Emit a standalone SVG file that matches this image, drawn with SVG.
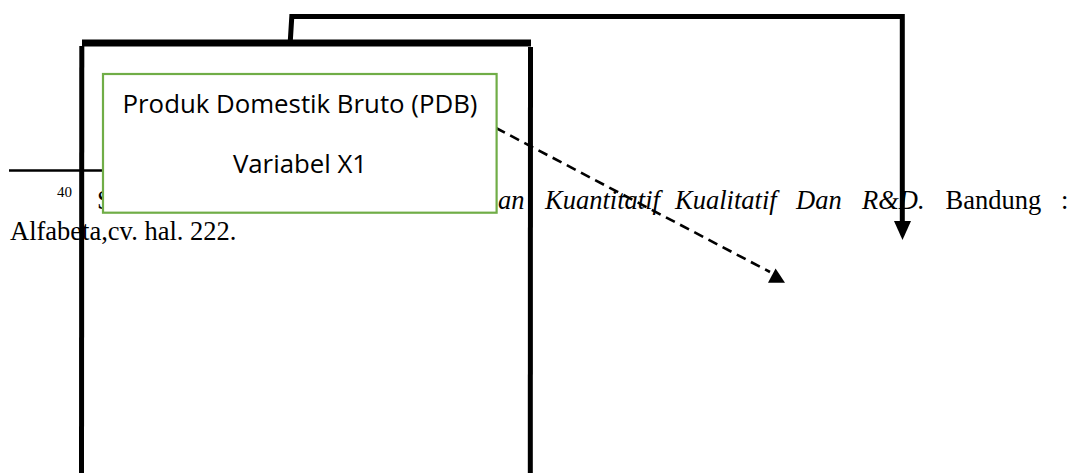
<svg xmlns="http://www.w3.org/2000/svg" width="1076" height="473" viewBox="0 0 1076 473">
<style>
.fn{font-family:"Liberation Serif","Times New Roman",serif;font-size:26.5px;fill:#000}
.it{font-style:italic}
.box{fill:#fff;stroke:#70AD47;stroke-width:2.2}
.lbl{font-family:"Open Sans","Noto Sans",sans-serif;font-size:25.8px;fill:#000;text-anchor:middle}
.thick{stroke:#000;fill:none}
</style>
<rect width="1076" height="473" fill="#fff"/>
<g id="footnote">
<line x1="9" y1="170.5" x2="103" y2="170.5" stroke="#000" stroke-width="2.4"/>
<text class="fn" x="57" y="197" style="font-size:15px">40</text>
<text class="fn" x="97" y="209">S</text>
<text class="fn it" x="498" y="209">an</text>
<text class="fn it" x="545" y="209">Kuantitatif</text>
<text class="fn it" x="675" y="209">Kualitatif</text>
<text class="fn it" x="796" y="209">Dan</text>
<text class="fn it" x="862" y="209">R&amp;D.</text>
<text class="fn" x="945.5" y="209">Bandung</text>
<text class="fn" x="1061" y="209">:</text>
<text class="fn" x="10" y="240">Alfabeta,cv. hal. 222.</text>
</g>
<g id="frame">
<line class="thick" x1="82" y1="43" x2="531" y2="43" stroke-width="7"/>
<line class="thick" x1="81.8" y1="46" x2="81.5" y2="473" stroke-width="5"/>
<line class="thick" x1="530.5" y1="47" x2="530.3" y2="473" stroke-width="5"/>
</g>
<g id="connectors">
<path class="thick" d="M290.3,41 L291.8,16.5 L902.3,16.5 L902.3,224" stroke-width="5"/>
<polygon points="894,221 911,221 902.5,240" fill="#000"/>
<line x1="496" y1="128" x2="770" y2="272" stroke="#000" stroke-width="2.6" stroke-dasharray="10 6"/>
<polygon points="775.6,268.5 768,282.7 785,282.7" fill="#000"/>
</g>
<g id="node-pdb">
<rect class="box" x="103" y="74" width="393.6" height="138.7"/>
<text class="lbl" x="300" y="113.3">Produk Domestik Bruto (PDB)</text>
<text class="lbl" x="300" y="173.3">Variabel X1</text>
</g>
</svg>
